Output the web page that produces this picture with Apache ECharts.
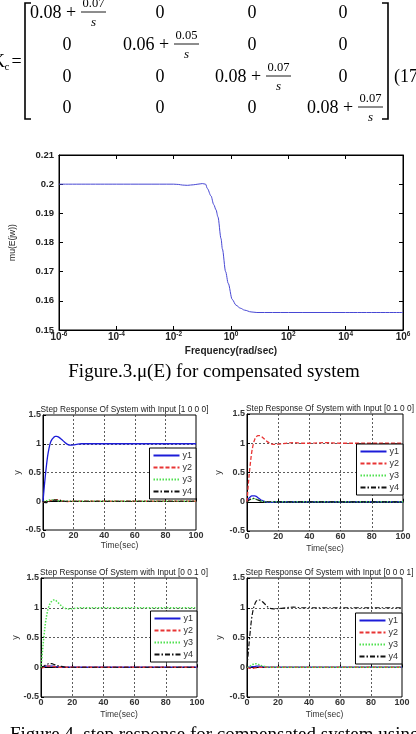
<!DOCTYPE html>
<html>
<head>
<meta charset="utf-8">
<script src="https://cdn.jsdelivr.net/npm/echarts@6/dist/echarts.min.js"></script>
<style>
html, body { margin: 0; padding: 0; background: #fff; }
#main { width: 416px; height: 734px; }
</style>
</head>
<body>
<div id="main"></div>
<script>
// mu(E) for compensated system
var freq = [1e-6, 1e-4, 1e-3, 0.01, 0.015, 0.02, 0.03, 0.05, 0.07, 0.1, 0.13, 0.15, 0.2, 0.25, 0.3, 0.35, 0.45, 0.5, 0.65, 0.8, 1.1, 1.5, 2.1, 3, 5, 8, 100, 1e4, 1e6];
var mu   = [0.2, 0.2, 0.2, 0.2, 0.1999, 0.1997, 0.1996, 0.1998, 0.2, 0.2002, 0.2, 0.1985, 0.196, 0.193, 0.1912, 0.1888, 0.1813, 0.1778, 0.17, 0.166, 0.1605, 0.1585, 0.1575, 0.1568, 0.1562, 0.156, 0.156, 0.156, 0.156];
var freqTicks = [1e-6, 1e-4, 1e-2, 1, 1e2, 1e4, 1e6];

// step responses, time in sec
var timeSec = [0, 1, 2, 3, 4, 5, 6, 7, 8, 9, 10, 12, 14, 16, 18, 20, 22, 25, 30, 35, 40, 50, 60, 70, 80, 90, 100];
// input [1 0 0 0]
var r1_y1 = [0, 0.3, 0.56, 0.78, 0.93, 1.03, 1.08, 1.11, 1.13, 1.13, 1.12, 1.08, 1.03, 0.99, 0.975, 0.98, 0.99, 1, 1, 1, 1, 1, 1, 1, 1, 1, 1];
var r1_y2 = [0, -0.02, -0.02, -0.01, 0, 0.01, 0.02, 0.03, 0.03, 0.03, 0.02, 0.01, 0, -0.005, 0, 0, 0, 0, 0, 0, 0, 0, 0, 0, 0, 0, 0];
var r1_y3 = [0, 0, 0.01, 0.01, 0.02, 0.02, 0.02, 0.02, 0.02, 0.02, 0.01, 0.01, 0, 0, 0, 0, 0, 0, 0, 0, 0, 0, 0, 0, 0, 0, 0];
var r1_y4 = [0, -0.02, -0.025, -0.02, -0.01, 0, 0.01, 0.02, 0.02, 0.02, 0.02, 0.01, 0, 0, 0, 0, 0, 0, 0, 0, 0, 0, 0, 0, 0, 0, 0];
// input [0 1 0 0]
var r2_y1 = [0, 0.05, 0.08, 0.1, 0.1, 0.1, 0.09, 0.07, 0.05, 0.03, 0.02, 0, -0.01, -0.01, 0, 0, 0, 0, 0, 0, 0, 0, 0, 0, 0, 0, 0];
var r2_y2 = [0, 0.35, 0.62, 0.84, 0.98, 1.07, 1.11, 1.13, 1.13, 1.12, 1.1, 1.05, 1.01, 0.985, 0.98, 0.985, 0.99, 1, 1.01, 1, 1, 1.01, 1, 1, 1, 1, 1];
var r2_y3 = [0, 0.02, 0.04, 0.05, 0.05, 0.05, 0.04, 0.03, 0.02, 0.01, 0.01, 0, 0, 0, 0, 0, 0, 0, 0, 0, 0, 0, 0, 0, 0, 0, 0];
var r2_y4 = [0, 0.02, 0.04, 0.05, 0.06, 0.05, 0.04, 0.03, 0.02, 0.01, 0, 0, 0, 0, 0, 0, 0, 0, 0, 0, 0, 0, 0, 0, 0, 0, 0];
// input [0 0 1 0]
var r3_y1 = [0, 0.01, 0.01, 0.02, 0.02, 0.02, 0.02, 0.02, 0.02, 0.01, 0.01, 0, 0, 0, 0, 0, 0, 0, 0, 0, 0, 0, 0, 0, 0, 0, 0];
var r3_y2 = [0, -0.01, 0, 0.01, 0.02, 0.02, 0.02, 0.02, 0.01, 0.01, 0, 0, 0, 0, 0, 0, 0, 0, 0, 0, 0, 0, 0, 0, 0, 0, 0];
var r3_y3 = [0, 0.28, 0.55, 0.77, 0.92, 1.02, 1.08, 1.11, 1.13, 1.13, 1.11, 1.06, 1.01, 0.985, 0.98, 0.985, 0.99, 1, 1, 1, 1, 1, 1, 1, 1, 1, 1];
var r3_y4 = [0, 0.01, 0.02, 0.04, 0.05, 0.06, 0.06, 0.06, 0.05, 0.04, 0.03, 0.02, 0.01, 0, 0, 0, 0, 0, 0, 0, 0, 0, 0, 0, 0, 0, 0];
// input [0 0 0 1]
var r4_y1 = [0, 0, 0, 0.01, 0.01, 0.01, 0.02, 0.02, 0.02, 0.01, 0.01, 0, 0, 0, 0, 0, 0, 0, 0, 0, 0, 0, 0, 0, 0, 0, 0];
var r4_y2 = [0, -0.01, -0.02, -0.02, -0.02, -0.01, -0.01, 0, 0, 0, 0, 0, 0, 0, 0, 0, 0, 0, 0, 0, 0, 0, 0, 0, 0, 0, 0];
var r4_y3 = [0, 0.01, 0.02, 0.04, 0.05, 0.06, 0.06, 0.05, 0.04, 0.03, 0.02, 0.01, 0, 0, 0, 0, 0, 0, 0, 0, 0, 0, 0, 0, 0, 0, 0];
var r4_y4 = [0, 0.3, 0.58, 0.82, 0.97, 1.06, 1.11, 1.13, 1.13, 1.12, 1.1, 1.05, 1, 0.985, 0.98, 0.985, 0.99, 1, 1.01, 1, 1, 1, 1, 1, 1, 1, 1];

var outNames = ['y1', 'y2', 'y3', 'y4'];
var plotTitles = [
  'Step Response Of System with Input [1 0 0 0]',
  'Step Response Of System with Input [0 1 0 0]',
  'Step Response Of System with Input [0 0 1 0]',
  'Step Response Of System with Input [0 0 0 1]'
];

// matrix Kc
var diagInt = ['0.08', '0.06', '0.08', '0.08'];
var diagNum = ['0.07', '0.05', '0.07', '0.07'];

var chart = echarts.init(document.getElementById('main'), null, { renderer: 'canvas' });

var SANS = '"Liberation Sans", Arial, sans-serif';
var SERIF = '"Liberation Serif", "Times New Roman", serif';

var lineStyles = [
  { color: '#1c1cd8', type: 'solid', width: 1.3 },
  { color: '#e83434', type: [4, 2], width: 1.3 },
  { color: '#4fe04f', type: [1.5, 1.5], width: 1.5 },
  { color: '#111111', type: [5, 2, 1.5, 2], width: 1.2 }
];

// small plot boxes
var boxes = [
  { left: 43, top: 415, width: 153, height: 115, yGap: 18, xGap: 11, legendRight: 220, legendTop: 448 },
  { left: 247, top: 414, width: 156, height: 117, yGap: 24, xGap: 13, legendRight: 13, legendTop: 444 },
  { left: 41, top: 578, width: 156, height: 119, yGap: 21, xGap: 13.5, legendRight: 219, legendTop: 611 },
  { left: 247, top: 578, width: 155, height: 119, yGap: 23, xGap: 13.5, legendRight: 14, legendTop: 613 }
];
var stepData = [
  [r1_y1, r1_y2, r1_y3, r1_y4],
  [r2_y1, r2_y2, r2_y3, r2_y4],
  [r3_y1, r3_y2, r3_y3, r3_y4],
  [r4_y1, r4_y2, r4_y3, r4_y4]
];

var grids = [{ left: 58, top: 155, width: 345, height: 175, show: true, borderColor: '#000', borderWidth: 1 }];
var xAxes = [
  {
    gridIndex: 0, type: 'log', logBase: 10, min: 1e-6, max: 1e6, position: 'bottom',
    name: 'Frequency(rad/sec)', nameLocation: 'middle', nameGap: 16,
    nameTextStyle: { fontFamily: SANS, fontSize: 10, fontWeight: 'bold', color: '#222' },
    axisLine: { lineStyle: { color: '#000', width: 1 } },
    axisTick: { inside: true, length: 4, customValues: freqTicks, lineStyle: { color: '#000' } },
    axisLabel: {
      customValues: freqTicks, margin: 1,
      formatter: function (v) { return '{b|10}{e|' + Math.round(Math.log10(v)) + '}'; },
      rich: {
        b: { fontFamily: SANS, fontSize: 10, fontWeight: 'bold', color: '#222', lineHeight: 12 },
        e: { fontFamily: SANS, fontSize: 6.5, fontWeight: 'bold', color: '#222', verticalAlign: 'top', lineHeight: 8 }
      }
    },
    splitLine: { show: false }, minorTick: { show: false }
  },
  {
    gridIndex: 0, type: 'log', logBase: 10, min: 1e-6, max: 1e6, position: 'top',
    axisLine: { lineStyle: { color: '#000', width: 1 } },
    axisTick: { inside: true, length: 4, customValues: freqTicks, lineStyle: { color: '#000' } },
    axisLabel: { show: false }, splitLine: { show: false }
  }
];
var yAxes = [
  {
    gridIndex: 0, type: 'value', min: 0.15, max: 0.21, interval: 0.01, position: 'left',
    name: 'mu(E(jw))', nameLocation: 'middle', nameGap: 42,
    nameTextStyle: { fontFamily: SANS, fontSize: 8.5, color: '#222' },
    axisLine: { show: true, lineStyle: { color: '#000' } },
    axisTick: { show: true, inside: true, length: 4, lineStyle: { color: '#000' } },
    axisLabel: { margin: 5, fontFamily: SANS, fontSize: 9.5, fontWeight: 'bold', color: '#222' },
    splitLine: { show: false }
  },
  {
    gridIndex: 0, type: 'value', min: 0.15, max: 0.21, interval: 0.01, position: 'right',
    axisLine: { show: true, lineStyle: { color: '#000' } },
    axisTick: { show: true, inside: true, length: 4, lineStyle: { color: '#000' } },
    axisLabel: { show: false }, splitLine: { show: false }
  }
];
var series = [{
  type: 'line', xAxisIndex: 0, yAxisIndex: 0, showSymbol: false, symbol: 'none',
  smooth: 0.3, smoothMonotone: 'x', lineStyle: { color: '#4848d4', width: 1 },
  data: freq.map(function (f, i) { return [f, mu[i]]; }),
  silent: true
}];
var titles = [];
var legends = [];

var gridLine = { show: true, showMinLine: false, showMaxLine: false, lineStyle: { color: '#333', type: [2, 2], width: 0.8 } };

boxes.forEach(function (b, p) {
  var gi = p + 1;
  grids.push({ left: b.left, top: b.top, width: b.width, height: b.height, show: true, borderColor: '#000', borderWidth: 1 });
  xAxes.push({
    gridIndex: gi, type: 'value', min: 0, max: 100, interval: 20,
    name: 'Time(sec)', nameLocation: 'middle', nameGap: b.xGap,
    nameTextStyle: { fontFamily: SANS, fontSize: 8.5, color: '#333' },
    axisLine: { lineStyle: { color: '#000' } },
    axisTick: { inside: true, length: 3, lineStyle: { color: '#000' } },
    axisLabel: { margin: 1.5, fontFamily: SANS, fontSize: 9, fontWeight: 'bold', color: '#333' },
    splitLine: gridLine
  });
  yAxes.push({
    gridIndex: gi, type: 'value', min: -0.5, max: 1.5, interval: 0.5,
    name: 'y', nameLocation: 'middle', nameGap: b.yGap,
    nameTextStyle: { fontFamily: SANS, fontSize: 9, color: '#333' },
    axisLine: { show: true, lineStyle: { color: '#000' } },
    axisTick: { show: true, inside: true, length: 3, lineStyle: { color: '#000' } },
    axisLabel: { margin: 2, fontFamily: SANS, fontSize: 9, fontWeight: 'bold', color: '#333' },
    splitLine: gridLine
  });
  stepData[p].forEach(function (vals, k) {
    series.push({
      name: outNames[k], type: 'line', xAxisIndex: gi + 1, yAxisIndex: gi + 1,
      symbol: 'none', showSymbol: false, smooth: 0.35, z: k === p ? 3 : 2,
      lineStyle: lineStyles[k], itemStyle: { color: lineStyles[k].color },
      data: timeSec.map(function (t, i) { return [t, vals[i]]; }),
      silent: true
    });
  });
  titles.push({
    text: plotTitles[p], left: b.left + b.width / 2, top: b.top - 14, textAlign: 'center',
    textStyle: { fontFamily: SANS, fontSize: 8.3, fontWeight: 'normal', color: '#222' }
  });
  legends.push({
    data: outNames, orient: 'vertical', right: b.legendRight, top: b.legendTop,
    selectedMode: false, backgroundColor: '#fff', borderColor: '#000', borderWidth: 1,
    padding: [3, 4, 3, 3], itemWidth: 26, itemHeight: 8, itemGap: 3,
    itemStyle: { opacity: 0 },
    textStyle: { fontFamily: SANS, fontSize: 9, color: '#333', padding: [0, 0, 0, -2] }
  });
});

// matrix graphic
function txt(x, y, s, font, align) {
  return { type: 'text', x: x, y: y, silent: true,
    style: { text: s, font: font, fill: '#000', align: align || 'center', verticalAlign: 'middle' } };
}
var rowY = [13, 45, 77, 108];
var colX = [67, 160, 252, 343];
var diagX = [30, 123, 215, 307];
var gfx = [];
for (var r = 0; r < 4; r++) {
  for (var c = 0; c < 4; c++) {
    if (r !== c) gfx.push(txt(colX[c], rowY[r], '0', '18px ' + SERIF));
  }
  var x0 = diagX[r], fx = x0 + 52;
  gfx.push(txt(x0, rowY[r], diagInt[r] + ' +', '18px ' + SERIF, 'left'));
  gfx.push(txt(fx + 11.5, rowY[r] - 9, diagNum[r], '12.5px ' + SERIF));
  gfx.push({ type: 'line', silent: true, shape: { x1: fx - 1, y1: rowY[r] - 1, x2: fx + 24, y2: rowY[r] - 1 }, style: { stroke: '#000', lineWidth: 0.9 } });
  gfx.push(txt(fx + 11.5, rowY[r] + 10, 's', 'italic 13px ' + SERIF));
}
gfx.push({ type: 'polyline', silent: true, shape: { points: [[31, 3], [25, 3], [25, 119], [31, 119]] }, style: { stroke: '#000', lineWidth: 1.6, fill: null } });
gfx.push({ type: 'polyline', silent: true, shape: { points: [[382, 3], [388, 3], [388, 119], [382, 119]] }, style: { stroke: '#000', lineWidth: 1.6, fill: null } });
gfx.push(txt(5, 62, 'K', '18px ' + SERIF, 'right'));
gfx.push(txt(4.5, 67, 'c', '11px ' + SERIF, 'left'));
gfx.push(txt(11.5, 62, '=', '18px ' + SERIF, 'left'));
gfx.push(txt(394, 77, '(17)', '18px ' + SERIF, 'left'));
// captions
gfx.push(txt(214, 372, 'Figure.3.\u03bc(E) for compensated system', '19px ' + SERIF));
gfx.push(txt(10, 735, 'Figure.4. step response for compensated system using', '19px ' + SERIF, 'left'));

chart.setOption({
  backgroundColor: '#ffffff',
  animation: false,
  title: titles,
  legend: legends,
  grid: grids,
  xAxis: xAxes,
  yAxis: yAxes,
  series: series,
  graphic: gfx
});
</script>
</body>
</html>
